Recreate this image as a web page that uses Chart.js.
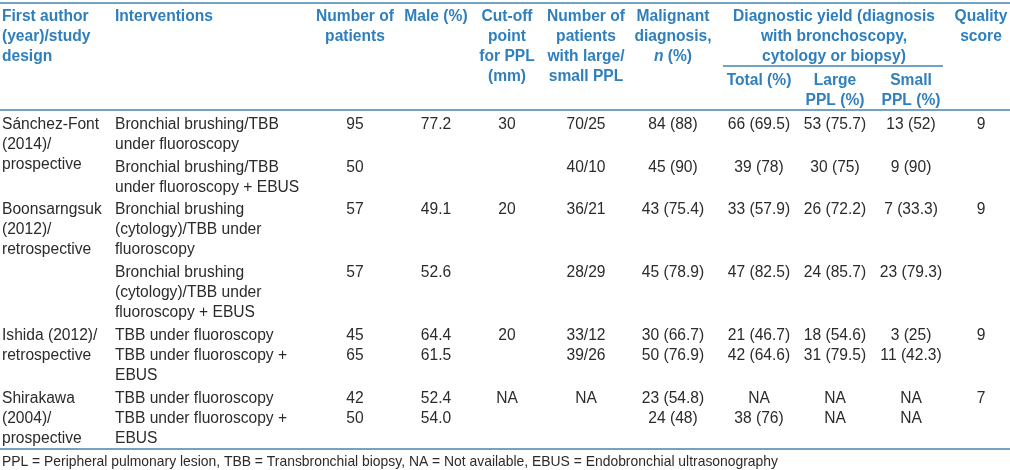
<!DOCTYPE html>
<html>
<head>
<meta charset="utf-8">
<script src="https://cdn.jsdelivr.net/npm/chart.js@4.4.0/dist/chart.umd.min.js"></script>
<style>
html, body { margin: 0; padding: 0; background: #fff; }
canvas { display: block; }
</style>
</head>
<body>
<canvas id="Tableau" width="1010" height="470"></canvas>
<script>
// donnees du tableau
var auteurs = [
    ["Sánchez-Font", "(2014)/", "prospective"],
    ["Boonsarngsuk", "(2012)/", "retrospective"],
    ["Ishida (2012)/", "retrospective"],
    ["Shirakawa", "(2004)/", "prospective"]
];
var interventions = [
    ["Bronchial brushing/TBB", "under fluoroscopy"],
    ["Bronchial brushing/TBB", "under fluoroscopy + EBUS"],
    ["Bronchial brushing", "(cytology)/TBB under", "fluoroscopy"],
    ["Bronchial brushing", "(cytology)/TBB under", "fluoroscopy + EBUS"],
    ["TBB under fluoroscopy"],
    ["TBB under fluoroscopy +", "EBUS"],
    ["TBB under fluoroscopy"],
    ["TBB under fluoroscopy +", "EBUS"]
];
var nbPatients = ["95", "50", "57", "57", "45", "65", "42", "50"];
var hommes = ["77.2", "", "49.1", "52.6", "64.4", "61.5", "52.4", "54.0"];
var seuil = ["30", "", "20", "", "20", "", "NA", ""];
var grandePetite = ["70/25", "40/10", "36/21", "28/29", "33/12", "39/26", "NA", ""];
var malins = ["84 (88)", "45 (90)", "43 (75.4)", "45 (78.9)", "30 (66.7)", "50 (76.9)", "23 (54.8)", "24 (48)"];
var rendementTotal = ["66 (69.5)", "39 (78)", "33 (57.9)", "47 (82.5)", "21 (46.7)", "42 (64.6)", "NA", "38 (76)"];
var rendementGrande = ["53 (75.7)", "30 (75)", "26 (72.2)", "24 (85.7)", "18 (54.6)", "31 (79.5)", "NA", "NA"];
var rendementPetite = ["13 (52)", "9 (90)", "7 (33.3)", "23 (79.3)", "3 (25)", "11 (42.3)", "NA", "NA"];
var qualite = ["9", "", "9", "", "9", "", "7", ""];

var entetes = [
    ["First author", "(year)/study", "design"],
    ["Interventions"],
    ["Number of", "patients"],
    ["Male (%)"],
    ["Cut-off", "point", "for PPL", "(mm)"],
    ["Number of", "patients", "with large/", "small PPL"],
    ["Malignant", "diagnosis,", "n (%)"],
    ["Total (%)"],
    ["Large", "PPL (%)"],
    ["Small", "PPL (%)"],
    ["Quality", "score"]
];
var enteteGroupe = ["Diagnostic yield (diagnosis", "with bronchoscopy,", "cytology or biopsy)"];
var note = "PPL = Peripheral pulmonary lesion, TBB = Transbronchial biopsy, NA = Not available, EBUS = Endobronchial ultrasonography";

// mise en page (pas des donnees)
var colX = [2, 115, 355, 436, 507, 586, 673, 759, 835, 911, 981];
var colAlign = ["left", "left", "center", "center", "center", "center", "center", "center", "center", "center", "center"];
var enteteY = [17, 17, 17, 17, 17, 17, 17, 81, 81, 81, 17];
var groupeX = 834;
var hauteurLigne = 19.9;
var debutRangees = 124.5;

var bleu = "#2f7fbd";
var trait = "#4585ad";
var texte = "#2b2b2b";
var policeGras = "bold 15.6px 'Liberation Sans', Arial, sans-serif";
var policeNormal = "15.6px 'Liberation Sans', Arial, sans-serif";

function GetColonnes() {
    return [null, null, nbPatients, hommes, seuil, grandePetite, malins, rendementTotal, rendementGrande, rendementPetite, qualite];
}

function GetDebuts() {
    var debuts = [];
    var y = debutRangees;
    var i = 0;
    while (i < interventions.length) {
        debuts.push(y);
        var nb = interventions[i].length;
        y += nb * hauteurLigne + (nb > 1 ? 3 : 0.5);
        i++;
    }
    return debuts;
}

var dessinTableau = {
    id: "dessinTableau",
    afterDraw: function (chart) {
        var ctx = chart.ctx;
        var sx = chart.scales.x;
        var sy = chart.scales.y;
        function px(v) { return sx.getPixelForValue(v); }
        function py(v) { return sy.getPixelForValue(v); }

        function ligne(x1, x2, y, w) {
            ctx.save();
            ctx.strokeStyle = trait;
            ctx.lineWidth = w;
            ctx.beginPath();
            ctx.moveTo(px(x1), py(y));
            ctx.lineTo(px(x2), py(y));
            ctx.stroke();
            ctx.restore();
        }

        ctx.save();
        ctx.textBaseline = "middle";

        // entetes
        ctx.fillStyle = bleu;
        ctx.font = policeGras;
        var c = 0;
        while (c < entetes.length) {
            var j = 0;
            while (j < entetes[c].length) {
                var t = entetes[c][j];
                var y = py(enteteY[c] + j * hauteurLigne);
                if (t === "n (%)") {
                    ctx.font = "italic " + policeGras;
                    var w1 = ctx.measureText("n").width;
                    ctx.font = policeGras;
                    var w2 = ctx.measureText(" (%)").width;
                    var x0 = px(colX[c]) - (w1 + w2) / 2;
                    ctx.textAlign = "left";
                    ctx.font = "italic " + policeGras;
                    ctx.fillText("n", x0, y);
                    ctx.font = policeGras;
                    ctx.fillText(" (%)", x0 + w1, y);
                } else {
                    ctx.textAlign = colAlign[c];
                    ctx.fillText(t, px(colX[c]), y);
                }
                j++;
            }
            c++;
        }
        ctx.textAlign = "center";
        var g = 0;
        while (g < enteteGroupe.length) {
            ctx.fillText(enteteGroupe[g], px(groupeX), py(17 + g * hauteurLigne));
            g++;
        }

        // corps
        var debuts = GetDebuts();
        var colonnes = GetColonnes();
        ctx.fillStyle = texte;
        ctx.font = policeNormal;

        var a = 0;
        while (a < auteurs.length) {
            var k = 0;
            while (k < auteurs[a].length) {
                ctx.textAlign = "left";
                ctx.fillText(auteurs[a][k], px(colX[0]), py(debuts[a * 2] + k * hauteurLigne));
                k++;
            }
            a++;
        }

        var r = 0;
        while (r < interventions.length) {
            var l = 0;
            while (l < interventions[r].length) {
                ctx.textAlign = "left";
                ctx.fillText(interventions[r][l], px(colX[1]), py(debuts[r] + l * hauteurLigne));
                l++;
            }
            var n = 2;
            while (n < colonnes.length) {
                ctx.textAlign = colAlign[n];
                ctx.fillText(colonnes[n][r], px(colX[n]), py(debuts[r]));
                n++;
            }
            r++;
        }

        ctx.font = "13.9px 'Liberation Sans', Arial, sans-serif";
        ctx.textAlign = "left";
        ctx.fillText(note, px(2), py(462.5));
        ctx.restore();

        ligne(0, 1010, 3, 1.5);
        ligne(723, 943, 66, 1.5);
        ligne(0, 1010, 110, 1.5);
        ligne(0, 1010, 449, 1.5);
    }
};

var ctx = document.getElementById('Tableau').getContext('2d');

var tableau = new Chart(ctx, {
    type: 'scatter',
    data: { datasets: [] },
    options: {
        responsive: false,
        animation: false,
        layout: { padding: 0 },
        plugins: {
            legend: { display: false },
            tooltip: { enabled: false }
        },
        scales: {
            x: { type: 'linear', min: 0, max: 1010, display: false },
            y: { type: 'linear', min: 0, max: 470, reverse: true, display: false }
        }
    },
    plugins: [dessinTableau]
});
</script>
</body>
</html>
